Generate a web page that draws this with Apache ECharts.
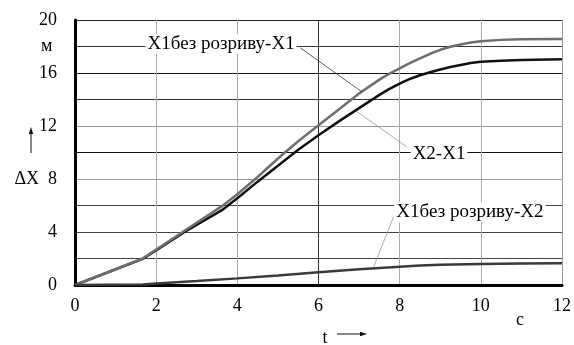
<!DOCTYPE html>
<html>
<head>
<meta charset="utf-8">
<script src="https://cdn.jsdelivr.net/npm/echarts@6/dist/echarts.min.js"></script>
<style>
  html, body { margin: 0; padding: 0; background: #fff; }
  #chart { width: 574px; height: 345px; }
</style>
</head>
<body>
<div id="chart"></div>
<script>
// Time samples (s) shared by the two large displacement curves
const timeMain = [0, 1.67, 2.7, 3.62, 4, 4.5, 5, 5.5, 6, 6.5, 7, 7.5, 7.75, 8, 8.25, 8.5, 8.75, 9, 9.25, 9.5, 9.75, 10, 10.5, 11, 12];
// X1 без розриву − X1 (m)
const gapNoBreakX1 = [0, 2.0, 4.1, 5.95, 6.85, 8.15, 9.55, 10.85, 12.05, 13.25, 14.45, 15.5, 15.95, 16.35, 16.75, 17.1, 17.45, 17.75, 17.98, 18.15, 18.3, 18.4, 18.5, 18.55, 18.57];
// X2 − X1 (m)
const gapX2X1 = [0, 1.97, 4.0, 5.65, 6.55, 7.8, 9.0, 10.2, 11.3, 12.35, 13.35, 14.35, 14.8, 15.2, 15.55, 15.83, 16.06, 16.27, 16.45, 16.6, 16.75, 16.85, 16.93, 16.98, 17.03];
// X1 без розриву − X2 (m)
const timeSmall = [0, 1.67, 2, 3, 4, 5, 6, 7, 8, 8.5, 9, 10, 11, 12];
const gapNoBreakX2 = [0, 0.04, 0.12, 0.3, 0.5, 0.72, 0.96, 1.18, 1.38, 1.47, 1.53, 1.58, 1.62, 1.64];

// Axis tick labels
const yTickText = { 0: '0', 4: '4', 8: 'ΔX  8', 12: '12', 16: '16', 18: 'м ', 20: '20' };

// Curve captions
const captionA = 'X1без розриву-X1';
const captionB = 'X2-X1';
const captionC = 'X1без розриву-X2';

const FONT = 'Liberation Serif';

function pairs(xs, ys) { return xs.map((x, i) => [x, ys[i]]); }

const chart = echarts.init(document.getElementById('chart'), null, { renderer: 'canvas' });

const captionLabel = (text) => ({
  show: true,
  position: 'inside',
  formatter: text,
  fontFamily: FONT,
  fontSize: 19,
  color: '#000',
  backgroundColor: '#fff',
  padding: [1, 2, 0, 2]
});

chart.setOption({
  animation: false,
  backgroundColor: '#fff',
  grid: { left: 75, right: 10, top: 20, bottom: 60 },
  xAxis: {
    type: 'value', min: 0, max: 12, interval: 2,
    axisLine: { show: true, lineStyle: { color: '#000', width: 3 } },
    axisTick: { show: false },
    axisLabel: { fontFamily: FONT, fontSize: 18, color: '#000', margin: 12 },
    splitLine: {
      show: true,
      lineStyle: { width: 1, color: ['#000', '#aaa', '#aaa', '#333', '#aaa', '#aaa', '#999'] }
    }
  },
  yAxis: {
    type: 'value', min: 0, max: 20, interval: 2,
    axisLine: { show: true, lineStyle: { color: '#000', width: 3 } },
    axisTick: { show: false },
    axisLabel: {
      fontFamily: FONT, fontSize: 18, color: '#000', margin: 18,
      formatter: (v) => (yTickText[v] !== undefined ? yTickText[v] : '')
    },
    splitLine: {
      show: true,
      lineStyle: {
        width: 1,
        color: ['#000', '#444', '#444', '#444', '#999', '#111', '#999', '#333', '#111', '#333', '#222']
      }
    }
  },
  series: [
    {
      name: captionB, type: 'line', data: pairs(timeMain, gapX2X1),
      symbol: 'none', lineStyle: { color: '#111', width: 2.5 }, z: 3,
      markPoint: {
        symbol: 'rect', symbolSize: 0, silent: true,
        data: [{ coord: [8.97, 9.9], label: captionLabel(captionB) }]
      },
      markLine: {
        symbol: 'none', silent: true, label: { show: false },
        lineStyle: { color: '#999', width: 0.8, type: 'solid' },
        data: [[{ coord: [6.94, 13.1] }, { coord: [8.17, 10.44] }]]
      }
    },
    {
      name: captionA, type: 'line', data: pairs(timeMain, gapNoBreakX1),
      symbol: 'none', lineStyle: { color: '#6e6e6e', width: 2.5 }, z: 4,
      markPoint: {
        symbol: 'rect', symbolSize: 0, silent: true,
        data: [{ coord: [3.6, 18.2], label: captionLabel(captionA) }]
      },
      markLine: {
        symbol: 'none', silent: true, label: { show: false },
        lineStyle: { color: '#333', width: 0.8, type: 'solid' },
        data: [[{ coord: [5.55, 17.9] }, { coord: [7.07, 14.57] }]]
      }
    },
    {
      name: captionC, type: 'line', data: pairs(timeSmall, gapNoBreakX2),
      symbol: 'none', lineStyle: { color: '#3a3a3a', width: 2.5 }, z: 5,
      markPoint: {
        symbol: 'rect', symbolSize: 0, silent: true,
        data: [{ coord: [9.73, 5.5], label: captionLabel(captionC) }]
      },
      markLine: {
        symbol: 'none', silent: true, label: { show: false },
        lineStyle: { color: '#999', width: 0.8, type: 'solid' },
        data: [[{ coord: [7.85, 5.15] }, { coord: [7.36, 1.38] }]]
      }
    }
  ],
  graphic: [
    // arrow beside ΔX
    { type: 'line', shape: { x1: 31, y1: 153, x2: 31, y2: 133 }, style: { stroke: '#111', lineWidth: 1 } },
    { type: 'polygon', shape: { points: [[31, 127], [28.8, 134], [33.2, 134]] }, style: { fill: '#111' } },
    // time axis caption with arrow
    { type: 'text', x: 325, y: 338, style: { text: 't', fontFamily: FONT, fontSize: 18, fill: '#000', align: 'center', verticalAlign: 'middle' } },
    { type: 'line', shape: { x1: 337, y1: 334, x2: 360, y2: 334 }, style: { stroke: '#111', lineWidth: 1 } },
    { type: 'polygon', shape: { points: [[367, 334], [360, 331.8], [360, 336.2]] }, style: { fill: '#111' } },
    { type: 'text', x: 520, y: 320, style: { text: 'c', fontFamily: FONT, fontSize: 18, fill: '#000', align: 'center', verticalAlign: 'middle' } }
  ]
});
</script>
</body>
</html>
